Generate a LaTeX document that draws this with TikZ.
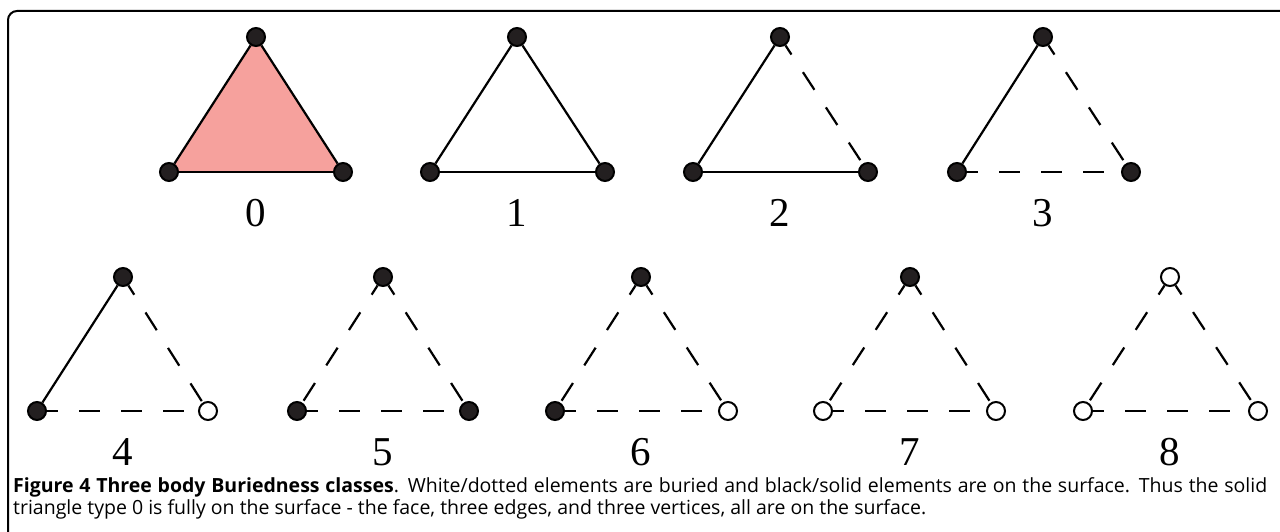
\documentclass[tikz,border=0pt]{standalone}
\usepackage{fontspec}
\newfontfamily\capfont{Open Sans}
\newfontfamily\numfont{Liberation Serif}
\definecolor{faceSalmon}{RGB}{246,161,157}
\definecolor{vertexDark}{RGB}{35,31,32}
\usepackage{tikz}
\usetikzlibrary{positioning,backgrounds}

\begin{document}
\begin{tikzpicture}[x=1pt, y=-1pt,
  surfvtx/.style={circle, draw=black, fill=vertexDark, line width=2pt, minimum size=18pt, inner sep=0pt},
  buriedvtx/.style={circle, draw=black, fill=white, line width=2pt, minimum size=18pt, inner sep=0pt},
  surfedge/.style={line width=2.2pt},
  buriededge/.style={line width=2.2pt, dash pattern=on 21pt off 21pt, dash phase=10pt},
  classlab/.style={font=\numfont\fontsize{41}{43}\selectfont, inner sep=0pt}]
  \useasboundingbox (0,0) rectangle (1280,532);
  % Frame
  \draw[line width=2pt, rounded corners=9pt] (8,545) -- (8,11) -- (1295,11);
  % Top row vertices
  \node[surfvtx] (t0) at (256,37) {};
  \node[surfvtx] (l0) at (169,172) {};
  \node[surfvtx] (r0) at (343,172) {};
  \node[surfvtx] (t1) at (517,37) {};
  \node[surfvtx] (l1) at (430,172) {};
  \node[surfvtx] (r1) at (605,172) {};
  \node[surfvtx] (t2) at (780,37) {};
  \node[surfvtx] (l2) at (693,172) {};
  \node[surfvtx] (r2) at (868,172) {};
  \node[surfvtx] (t3) at (1043,37) {};
  \node[surfvtx] (l3) at (957,172) {};
  \node[surfvtx] (r3) at (1131,172) {};
  % Bottom row vertices
  \node[surfvtx] (t4) at (123,277) {};
  \node[surfvtx] (l4) at (37,411) {};
  \node[buriedvtx] (r4) at (208,411) {};
  \node[surfvtx] (t5) at (383,277) {};
  \node[surfvtx] (l5) at (297,411) {};
  \node[surfvtx] (r5) at (469,411) {};
  \node[surfvtx] (t6) at (641,277) {};
  \node[surfvtx] (l6) at (555,411) {};
  \node[buriedvtx] (r6) at (728,411) {};
  \node[surfvtx] (t7) at (910,277) {};
  \node[buriedvtx] (l7) at (823,411) {};
  \node[buriedvtx] (r7) at (996,411) {};
  \node[buriedvtx] (t8) at (1170,277) {};
  \node[buriedvtx] (l8) at (1083,411) {};
  \node[buriedvtx] (r8) at (1258,411) {};
  % Face of type 0
  \begin{scope}[on background layer]
    \fill[faceSalmon] (t0.center) -- (l0.center) -- (r0.center) -- cycle;
  \end{scope}
  % Edges
  \draw[surfedge] (t0) -- (l0);
  \draw[surfedge] (t0) -- (r0);
  \draw[surfedge] (l0) -- (r0);
  \draw[surfedge] (t1) -- (l1);
  \draw[surfedge] (t1) -- (r1);
  \draw[surfedge] (l1) -- (r1);
  \draw[surfedge] (t2) -- (l2);
  \draw[buriededge] (t2) -- (r2);
  \draw[surfedge] (l2) -- (r2);
  \draw[surfedge] (t3) -- (l3);
  \draw[buriededge] (t3) -- (r3);
  \draw[buriededge] (l3) -- (r3);
  \draw[surfedge] (t4) -- (l4);
  \draw[buriededge] (t4) -- (r4);
  \draw[buriededge] (l4) -- (r4);
  \draw[buriededge] (t5) -- (l5);
  \draw[buriededge] (t5) -- (r5);
  \draw[buriededge] (l5) -- (r5);
  \draw[buriededge] (t6) -- (l6);
  \draw[buriededge] (t6) -- (r6);
  \draw[buriededge] (l6) -- (r6);
  \draw[buriededge] (t7) -- (l7);
  \draw[buriededge] (t7) -- (r7);
  \draw[buriededge] (l7) -- (r7);
  \draw[buriededge] (t8) -- (l8);
  \draw[buriededge] (t8) -- (r8);
  \draw[buriededge] (l8) -- (r8);
  % Class numbers
  \node[classlab] (n0) at (256,213) {0};
  \node[classlab] (n1) at (517,213) {1};
  \node[classlab] (n2) at (780,213) {2};
  \node[classlab] (n3) at (1043,213) {3};
  \node[classlab] (n4) at (123,452) {4};
  \node[classlab] (n5) at (383,452) {5};
  \node[classlab] (n6) at (641,452) {6};
  \node[classlab] (n7) at (910,452) {7};
  \node[classlab] (n8) at (1170,452) {8};
  % Caption
  \node[anchor=north west, inner sep=0pt, text width=1254pt, align=justify,
        font=\capfont\fontsize{19.5}{22}\selectfont] (cap) at (13,477)
    {\hyphenpenalty=10000\textbf{Figure 4 Three body Buriedness classes}. White/dotted elements are buried and black/solid elements are on the surface. Thus the solid\linebreak{} triangle type 0 is fully on the surface - the face, three edges, and three vertices, all are on the surface.};
\end{tikzpicture}
\end{document}
